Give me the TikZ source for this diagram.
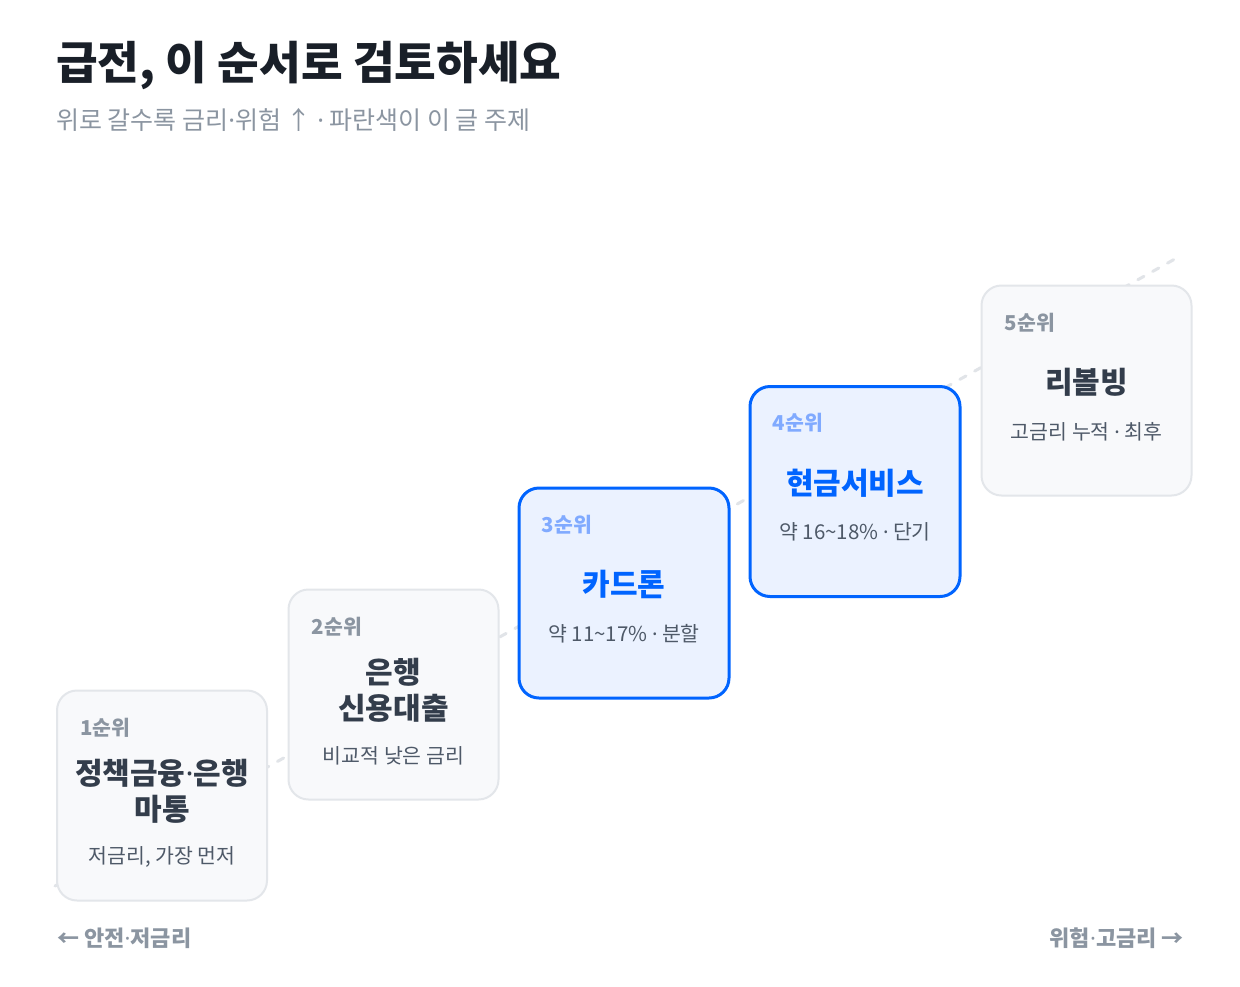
\documentclass[tikz,border=0pt]{standalone}
\usepackage{fontspec}
\setmainfont{Noto Sans CJK KR}
\newfontfamily\latinfont{Noto Sans}
\newcommand{\mdot}{{\latinfont ·}}
\begin{document}
\begin{tikzpicture}[x=1pt,y=-1pt,
  card/.style={draw=cardline,fill=cardfill,line width=2pt,rounded corners=20pt,minimum width=210pt,minimum height=210pt,inner sep=0pt},
  hicard/.style={card,draw=blue1,fill=bluefill,line width=3pt},
  rank/.style={anchor=west,inner sep=0pt,font=\fontsize{20.5}{24}\selectfont\bfseries,text=rankgray},
  hirank/.style={rank,text=ranklight},
  ttl/.style={inner sep=0pt,align=center,font=\fontsize{30}{36}\selectfont\bfseries,text=titledark},
  hittl/.style={ttl,text=blue1},
  desc/.style={inner sep=0pt,font=\fontsize{20.5}{24}\selectfont,text=descgray},
  side/.style={inner sep=0pt,font=\fontsize{22}{26}\selectfont\bfseries,text=subgray},
  guide/.style={draw=dashgray,line width=3pt,dash pattern=on 7pt off 10pt,line cap=round}
]
\definecolor{cardline}{HTML}{E3E6EA}
\definecolor{cardfill}{HTML}{F8F9FB}
\definecolor{blue1}{HTML}{0064FF}
\definecolor{bluefill}{HTML}{EBF2FF}
\definecolor{rankgray}{HTML}{8B95A1}
\definecolor{ranklight}{HTML}{80AAFF}
\definecolor{titledark}{HTML}{333D4B}
\definecolor{descgray}{HTML}{4E5968}
\definecolor{subgray}{HTML}{8B95A1}
\definecolor{dashgray}{HTML}{E1E4E8}
\definecolor{headblack}{HTML}{191F28}

\fill[white] (0,0) rectangle (1240,986);
\useasboundingbox (0,0) rectangle (1240,986);

% title
\node[anchor=west,inner sep=0pt,font=\fontsize{45.3}{52}\selectfont\bfseries,text=headblack] (title) at (56,65) {급전, 이 순서로 검토하세요};
\node[anchor=west,inner sep=0pt,font=\fontsize{25}{28}\selectfont,text=subgray] (subtitle) at (56,120) {위로 갈수록 금리\mdot 위험 ↑ \mdot\ 파란색이 이 글 주제};

% guide line
\coordinate (gstart) at (55,886);
\coordinate (gend) at (1182,255);
\draw[guide] (gstart) -- (gend);

% cards
\node[card] (c1) at (162,795.5) {};
\node[card] (c2) at (393.5,694.5) {};
\node[hicard] (c3) at (624,593) {};
\node[hicard] (c4) at (855,491.5) {};
\node[card] (c5) at (1086.5,390.5) {};

% card 1
\node[rank] (r1) at ([xshift=24pt,yshift=-38pt]c1.north west) {1순위};
\node[ttl] (t1) at ([yshift=-102pt]c1.north) {정책금융\mdot 은행\\마통};
\node[desc] (d1) at ([yshift=-167pt]c1.north) {저금리, 가장 먼저};
% card 2
\node[rank] (r2) at ([xshift=24pt,yshift=-38pt]c2.north west) {2순위};
\node[ttl] (t2) at ([yshift=-102pt]c2.north) {은행\\신용대출};
\node[desc] (d2) at ([yshift=-167pt]c2.north) {비교적 낮은 금리};
% card 3
\node[hirank] (r3) at ([xshift=24pt,yshift=-38pt]c3.north west) {3순위};
\node[hittl] (t3) at ([yshift=-98pt]c3.north) {카드론};
\node[desc] (d3) at ([yshift=-147pt]c3.north) {약 11\textasciitilde17\% \mdot\ 분할};
% card 4
\node[hirank] (r4) at ([xshift=24pt,yshift=-38pt]c4.north west) {4순위};
\node[hittl] (t4) at ([yshift=-98pt]c4.north) {현금서비스};
\node[desc] (d4) at ([yshift=-147pt]c4.north) {약 16\textasciitilde18\% \mdot\ 단기};
% card 5
\node[rank] (r5) at ([xshift=24pt,yshift=-38pt]c5.north west) {5순위};
\node[ttl] (t5) at ([yshift=-98pt]c5.north) {리볼빙};
\node[desc] (d5) at ([yshift=-147pt]c5.north) {고금리 누적 \mdot\ 최후};

% bottom labels
\node[side,anchor=west] (left) at (57,938) {← 안전\mdot 저금리};
\node[side,anchor=east] (right) at (1184,938) {위험\mdot 고금리 →};
\end{tikzpicture}
\end{document}
